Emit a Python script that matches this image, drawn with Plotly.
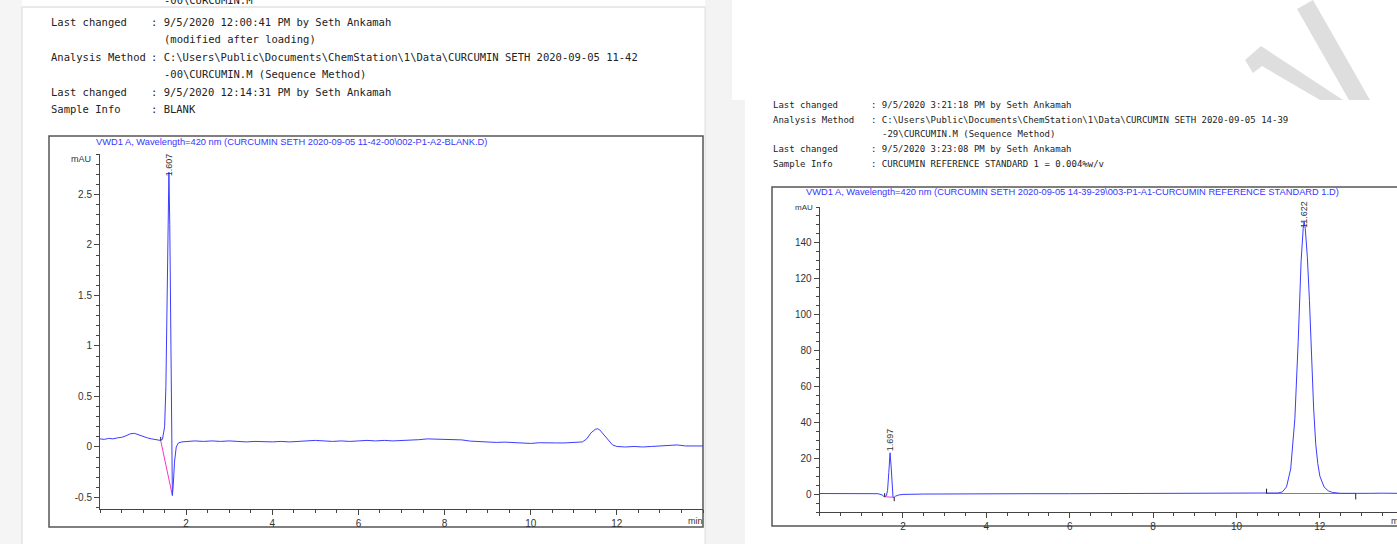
import plotly.graph_objects as go

W, H = 1397, 544

# ---------------- data ----------------
blank_time = [0.0, 0.1, 0.2, 0.3, 0.4, 0.5, 0.6, 0.7, 0.8, 0.9, 1.0, 1.1, 1.2, 1.3, 1.4, 1.45,
              1.5, 1.53, 1.56, 1.58, 1.60, 1.62, 1.64, 1.66, 1.68, 1.70, 1.73, 1.77, 1.82, 1.9,
              2.0, 2.2, 2.4, 2.6, 2.8, 3.0, 3.2, 3.4, 3.6, 3.8, 4.0, 4.2, 4.4, 4.6, 4.8, 5.0,
              5.2, 5.4, 5.6, 5.8, 6.0, 6.2, 6.4, 6.6, 6.8, 7.0, 7.2, 7.4, 7.6, 7.8, 8.0, 8.2,
              8.4, 8.6, 8.8, 9.0, 9.2, 9.4, 9.6, 9.8, 10.0, 10.2, 10.4, 10.6, 10.8, 11.0, 11.2,
              11.3, 11.4, 11.5, 11.55, 11.6, 11.7, 11.8, 11.9, 12.0, 12.2, 12.4, 12.6, 12.8,
              13.0, 13.2, 13.4, 13.6, 13.8, 14.0]
blank_mau = [0.08, 0.075, 0.085, 0.08, 0.09, 0.095, 0.11, 0.13, 0.135, 0.12, 0.10, 0.09, 0.08,
             0.075, 0.065, 0.075, 0.2, 0.6, 1.5, 2.3, 2.72, 2.2, 1.0, 0.0, -0.48, -0.38, -0.15,
             0.0, 0.04, 0.05, 0.055, 0.06, 0.055, 0.06, 0.055, 0.06, 0.055, 0.05, 0.055, 0.05,
             0.05, 0.055, 0.05, 0.055, 0.06, 0.065, 0.06, 0.055, 0.06, 0.055, 0.06, 0.065, 0.06,
             0.065, 0.06, 0.062, 0.065, 0.072, 0.08, 0.078, 0.075, 0.07, 0.07, 0.058, 0.052,
             0.05, 0.045, 0.048, 0.042, 0.04, 0.035, 0.042, 0.038, 0.04, 0.04, 0.042, 0.05,
             0.08, 0.14, 0.175, 0.18, 0.17, 0.12, 0.06, 0.02, 0.005, 0.0, 0.005, 0.0, 0.005,
             0.01, 0.015, 0.02, 0.01, 0.012, 0.01]
blank_base_time = [1.41, 1.68]
blank_base_mau = [0.062, -0.48]
blank_mark_time = [1.41, 1.41]
blank_mark_mau = [0.062, 0.10]
blank_peak_rt = 1.607
blank_peak_label = "1.607"

std_time = [0.0, 0.5, 1.0, 1.4, 1.5, 1.55, 1.6, 1.63, 1.66, 1.69, 1.72, 1.74, 1.76, 1.78, 1.82,
            1.9, 2.0, 2.5, 3.0, 4.0, 5.0, 6.0, 7.0, 8.0, 8.8, 9.5, 10.0, 10.5, 10.8, 11.0, 11.1,
            11.2, 11.3, 11.4, 11.48, 11.55, 11.6, 11.622, 11.65, 11.7, 11.75, 11.8, 11.85,
            11.9, 11.95, 12.0, 12.1, 12.2, 12.3, 12.5, 12.8, 13.2, 13.5, 13.85]
std_mau = [0.3, 0.3, 0.3, 0.2, -0.5, -1.5, -1.0, 2.0, 12.0, 23.0, 14.0, 3.0, -1.5, -2.0, -1.2,
           -0.5, -0.2, 0.0, 0.1, 0.1, 0.2, 0.2, 0.3, 0.3, 0.6, 0.6, 0.6, 0.6, 0.5, 0.6, 1.2,
           4.0, 14.0, 42.0, 85.0, 130.0, 148.0, 152.0, 148.0, 132.0, 108.0, 75.0, 48.0,
           28.0, 17.0, 10.0, 4.0, 1.8, 0.9, 0.4, 0.3, 0.4, 0.5, 0.4]
std_base1_time = [1.56, 1.79]
std_base1_mau = [-1.5, -1.8]
std_base2_time = [10.72, 12.86]
std_base2_mau = [0.3, 0.3]
std_mark_time = [1.56, 1.56, None, 1.79, 1.79, None, 10.72, 10.72, None, 12.86, 12.86]
std_mark_mau = [-1.5, 0.5, None, -1.8, -4.0, None, 0.3, 3.0, None, 0.3, -3.0]
std_peak_rts = [1.697, 11.622]
std_peak_labels = ["1.697", "11.622"]

x_tick_vals = [2, 4, 6, 8, 10, 12]
blank_y_ticks = [-0.5, 0, 0.5, 1, 1.5, 2, 2.5]
blank_y_text = ["-0.5", "0", "0.5", "1", "1.5", "2", "2.5"]
std_y_ticks = [0, 20, 40, 60, 80, 100, 120, 140]

left_header = [
    ("Last changed", ": 9/5/2020 12:00:41 PM by Seth Ankamah"),
    ("", "(modified after loading)"),
    ("Analysis Method", r": C:\Users\Public\Documents\ChemStation\1\Data\CURCUMIN SETH 2020-09-05 11-42"),
    ("", r"-00\CURCUMIN.M (Sequence Method)"),
    ("Last changed", ": 9/5/2020 12:14:31 PM by Seth Ankamah"),
    ("Sample Info", ": BLANK"),
]
right_header = [
    ("Last changed", ": 9/5/2020 3:21:18 PM by Seth Ankamah"),
    ("Analysis Method", r": C:\Users\Public\Documents\ChemStation\1\Data\CURCUMIN SETH 2020-09-05 14-39"),
    ("", r"-29\CURCUMIN.M (Sequence Method)"),
    ("Last changed", ": 9/5/2020 3:23:08 PM by Seth Ankamah"),
    ("Sample Info", ": CURCUMIN REFERENCE STANDARD 1 = 0.004%w/v"),
]
left_title = r"VWD1 A, Wavelength=420 nm (CURCUMIN SETH 2020-09-05 11-42-00\002-P1-A2-BLANK.D)"
right_title = r"VWD1 A, Wavelength=420 nm (CURCUMIN SETH 2020-09-05 14-39-29\003-P1-A1-CURCUMIN REFERENCE STANDARD 1.D)"


# ---------------- helpers ----------------
def px(x):
    return x / W


def py(y):
    return 1 - y / H


def poly(points):
    s = "M " + " L ".join(f"{px(a):.5f},{py(b):.5f}" for a, b in points) + " Z"
    return s


BLUE = "#3c3cff"
MAG = "#ff33cc"
AX = "#444444"
tickfont = dict(family="Liberation Sans, Arial", size=10, color="#333333")

fig = go.Figure()

fig.add_trace(go.Scatter(x=blank_base_time, y=blank_base_mau, mode="lines",
                         line=dict(color=MAG, width=1), xaxis="x", yaxis="y", hoverinfo="skip"))
fig.add_trace(go.Scatter(x=blank_time, y=blank_mau, mode="lines",
                         line=dict(color=BLUE, width=1), xaxis="x", yaxis="y"))
fig.add_trace(go.Scatter(x=blank_mark_time, y=blank_mark_mau, mode="lines",
                         line=dict(color="#222", width=1), xaxis="x", yaxis="y", hoverinfo="skip"))

fig.add_trace(go.Scatter(x=std_base1_time, y=std_base1_mau, mode="lines",
                         line=dict(color=MAG, width=1), xaxis="x2", yaxis="y2", hoverinfo="skip"))
fig.add_trace(go.Scatter(x=std_base2_time, y=std_base2_mau, mode="lines",
                         line=dict(color=MAG, width=1.2), xaxis="x2", yaxis="y2", hoverinfo="skip"))
fig.add_trace(go.Scatter(x=std_time, y=std_mau, mode="lines",
                         line=dict(color=BLUE, width=1), xaxis="x2", yaxis="y2"))
fig.add_trace(go.Scatter(x=std_mark_time, y=std_mark_mau, mode="lines",
                         line=dict(color="#222", width=1), xaxis="x2", yaxis="y2", hoverinfo="skip"))


def axis(domain, rng, tickvals, ticktext, minor_dtick, anchor):
    d = dict(domain=domain, range=rng, anchor=anchor, showline=True, linecolor=AX, linewidth=1,
             ticks="outside", ticklen=5, tickcolor=AX, tickwidth=1, tickvals=tickvals,
             showgrid=False, zeroline=False, tickfont=tickfont, fixedrange=True,
             minor=dict(ticks="outside", dtick=minor_dtick, tick0=0, ticklen=3,
                        tickcolor=AX, tickwidth=1, showgrid=False))
    if ticktext is not None:
        d["ticktext"] = ticktext
    return d


shapes = []
# page backgrounds
shapes.append(dict(type="rect", xref="paper", yref="paper", x0=0, x1=px(22), y0=0, y1=1,
                   fillcolor="#f5f5f5", line=dict(width=0), layer="below"))
shapes.append(dict(type="line", xref="paper", yref="paper", x0=px(22), x1=px(22), y0=0, y1=py(7),
                   line=dict(color="#d9d9d9", width=1), layer="below"))
shapes.append(dict(type="line", xref="paper", yref="paper", x0=px(22), x1=px(705), y0=py(7), y1=py(7),
                   line=dict(color="#e2e2e2", width=1.5), layer="below"))
shapes.append(dict(type="rect", xref="paper", yref="paper", x0=px(705), x1=px(732), y0=0, y1=1,
                   fillcolor="#f3f3f3", line=dict(width=0), layer="below"))
shapes.append(dict(type="rect", xref="paper", yref="paper", x0=px(732), x1=px(745), y0=0, y1=py(100),
                   fillcolor="#f3f3f3", line=dict(width=0), layer="below"))
shapes.append(dict(type="line", xref="paper", yref="paper", x0=px(705), x1=px(705), y0=0, y1=py(7),
                   line=dict(color="#dddddd", width=1), layer="below"))
# watermark strokes
shapes.append(dict(type="path", xref="paper", yref="paper",
                   path=poly([(1297, 9), (1313, 0), (1370, 100), (1349, 100)]),
                   fillcolor="#dedede", line=dict(width=0), layer="below"))
shapes.append(dict(type="path", xref="paper", yref="paper",
                   path=poly([(1245, 60), (1261, 46), (1343, 100), (1320, 100), (1262, 66), (1253, 73)]),
                   fillcolor="#dedede", line=dict(width=0), layer="below"))
# chart frames
shapes.append(dict(type="rect", xref="paper", yref="paper", x0=px(49), x1=px(703), y0=py(527), y1=py(136),
                   line=dict(color="#555555", width=1.5), fillcolor="rgba(0,0,0,0)", layer="below"))
shapes.append(dict(type="rect", xref="paper", yref="paper", x0=px(772), x1=1.01, y0=py(526), y1=py(187),
                   line=dict(color="#555555", width=1.5), fillcolor="rgba(0,0,0,0)", layer="below"))

annotations = []
mono = "DejaVu Sans Mono"
for i, (lab, val) in enumerate(left_header):
    yy = py(22 + i * 17.4)
    if lab:
        annotations.append(dict(x=px(49), y=yy, text=lab, showarrow=False, xanchor="left", yanchor="middle",
                                xref="paper", yref="paper", font=dict(family=mono, size=10.5, color="#222")))
    xv = 149 if val.startswith(":") else 162
    annotations.append(dict(x=px(xv), y=yy, text=val, showarrow=False, xanchor="left", yanchor="middle",
                            xref="paper", yref="paper", font=dict(family=mono, size=10.5, color="#222")))
annotations.append(dict(x=px(162), y=py(0), text=r"-00\CURCUMIN.M", showarrow=False, xanchor="left",
                        yanchor="middle", xref="paper", yref="paper",
                        font=dict(family=mono, size=10.5, color="#222")))
for i, (lab, val) in enumerate(right_header):
    yy = py(105 + i * 14.7)
    if lab:
        annotations.append(dict(x=px(771), y=yy, text=lab, showarrow=False, xanchor="left", yanchor="middle",
                                xref="paper", yref="paper", font=dict(family=mono, size=9.0, color="#222")))
    xv = 869 if val.startswith(":") else 880
    annotations.append(dict(x=px(xv), y=yy, text=val, showarrow=False, xanchor="left", yanchor="middle",
                            xref="paper", yref="paper", font=dict(family=mono, size=9.0, color="#222")))

titlefont = dict(family="Liberation Sans, Arial", size=9.3, color="#3535ff")
annotations.append(dict(x=px(291), y=py(142), text=left_title, showarrow=False, xanchor="center",
                        yanchor="middle", xref="paper", yref="paper", font=titlefont))
annotations.append(dict(x=px(1072), y=py(192), text=right_title, showarrow=False, xanchor="center",
                        yanchor="middle", xref="paper", yref="paper", font=titlefont))

# mAU and min labels
annotations.append(dict(x=px(93), y=py(159), text="mAU", showarrow=False, xanchor="right", yanchor="middle",
                        xref="paper", yref="paper", font=dict(family="Liberation Sans, Arial", size=9, color="#333")))
annotations.append(dict(x=px(815), y=py(207), text="mAU", showarrow=False, xanchor="right", yanchor="middle",
                        xref="paper", yref="paper", font=dict(family="Liberation Sans, Arial", size=8, color="#333")))
annotations.append(dict(x=px(705), y=py(521), text="min", showarrow=False, xanchor="right", yanchor="middle",
                        xref="paper", yref="paper", font=dict(family="Liberation Sans, Arial", size=9, color="#333")))
annotations.append(dict(x=px(1389), y=py(521), text="min", showarrow=False, xanchor="left", yanchor="middle",
                        xref="paper", yref="paper", font=dict(family="Liberation Sans, Arial", size=9, color="#333")))

# peak labels (rotated)
plab = dict(family="Liberation Sans, Arial", size=9, color="#333")
annotations.append(dict(x=blank_peak_rt, y=py(165), xref="x", yref="paper", text=blank_peak_label,
                        textangle=-90, showarrow=False, xanchor="center", yanchor="middle", font=plab))
annotations.append(dict(x=std_peak_rts[0], y=py(440), xref="x2", yref="paper", text=std_peak_labels[0],
                        textangle=-90, showarrow=False, xanchor="center", yanchor="middle", font=plab))
annotations.append(dict(x=std_peak_rts[1], y=py(215), xref="x2", yref="paper", text=std_peak_labels[1],
                        textangle=-90, showarrow=False, xanchor="center", yanchor="middle", font=plab))

fig.update_layout(
    width=W, height=H, margin=dict(l=0, r=0, t=0, b=0),
    paper_bgcolor="white", plot_bgcolor="rgba(0,0,0,0)", showlegend=False,
    xaxis=axis([px(100), px(703)], [0, 14], x_tick_vals, None, 0.5, "y"),
    yaxis=axis([py(509), py(154)], [-0.614, 2.90], blank_y_ticks, blank_y_text, 0.1, "x"),
    xaxis2=axis([px(819.6), 1.0], [0, 13.85], x_tick_vals, None, 0.5, "y2"),
    yaxis2=axis([py(512), py(207)], [-10, 160], std_y_ticks, None, 5, "x2"),
    shapes=shapes, annotations=annotations,
)

fig.write_html("out.html", config={"displayModeBar": False},
               post_script="document.body.style.margin='0';document.body.style.overflow='hidden';")
